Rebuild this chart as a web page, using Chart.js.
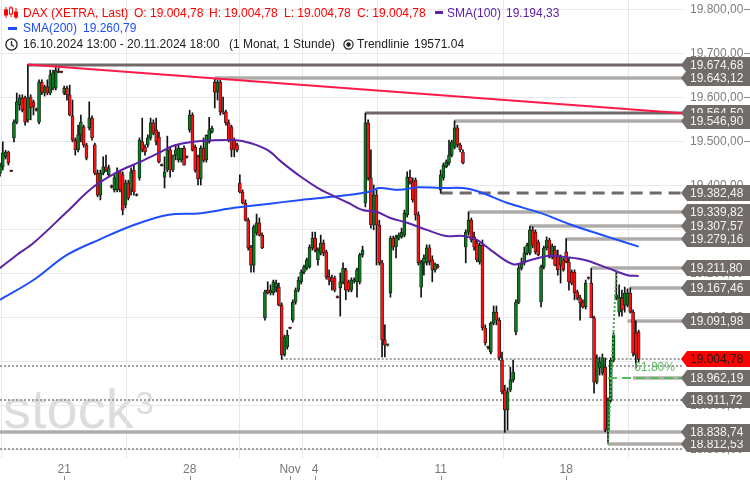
<!DOCTYPE html>
<html><head><meta charset="utf-8">
<script src="https://cdn.jsdelivr.net/npm/chart.js@4/dist/chart.umd.min.js"></script>
<style>
html,body{margin:0;padding:0;background:#fff;}
#wrap{position:relative;width:750px;height:480px;overflow:hidden;font-family:"Liberation Sans",Arial,sans-serif;}
#wm{position:absolute;left:3px;top:381px;color:#dcdcdc;font-size:56px;line-height:56px;z-index:0;white-space:nowrap;}
#wm sup{font-size:32px;position:relative;top:-6px;vertical-align:top;margin-left:2px;}
canvas{position:absolute;left:0;top:0;z-index:1;}
.t{position:absolute;font-size:12px;line-height:14px;white-space:nowrap;z-index:2;}
.r{color:#ff0000;} .p{color:#5c22a8;} .b{color:#1e4dff;} .k{color:#222;}
svg{position:absolute;z-index:2;}
</style></head>
<body>
<div id="wrap">
  <div id="wm">stock<sup>3</sup></div>
  <canvas id="c" width="750" height="480"></canvas>
  <svg style="left:4px;top:6px" width="14" height="13" viewBox="0 0 14 13">
    <g stroke="#ff0000" fill="#ff0000" stroke-width="1">
      <line x1="2" y1="1" x2="2" y2="12"/><rect x="0.5" y="4" width="3" height="5"/>
      <line x1="7" y1="0" x2="7" y2="11"/><rect x="5.5" y="2" width="3" height="6" fill="#fff"/>
      <line x1="12" y1="2" x2="12" y2="13"/><rect x="10.5" y="6" width="3" height="5"/>
    </g>
  </svg>
  <span class="t r" style="left:23px;top:6px">DAX (XETRA, Last)</span>
  <span class="t r" style="left:134px;top:6px">O: 19.004,78</span>
  <span class="t r" style="left:209px;top:6px">H: 19.004,78</span>
  <span class="t r" style="left:284px;top:6px">L: 19.004,78</span>
  <span class="t r" style="left:357px;top:6px">C: 19.004,78</span>
  <span style="position:absolute;left:435px;top:11px;width:8px;height:3px;background:#5c22a8;z-index:2"></span>
  <span class="t p" style="left:447px;top:6px">SMA(100)</span>
  <span class="t p" style="left:506px;top:6px">19.194,33</span>
  <span style="position:absolute;left:8px;top:27px;width:9px;height:3px;background:#1e4dff;z-index:2"></span>
  <span class="t b" style="left:23px;top:21px">SMA(200)</span>
  <span class="t b" style="left:83px;top:21px">19.260,79</span>
  <svg style="left:5px;top:38px" width="13" height="13" viewBox="0 0 13 13">
    <circle cx="6.5" cy="6.5" r="5.6" fill="none" stroke="#222" stroke-width="1.3"/>
    <polyline points="6.5,3 6.5,6.8 9,8.5" fill="none" stroke="#222" stroke-width="1.3"/>
  </svg>
  <span class="t k" style="left:23px;top:37px">16.10.2024 13:00 - 20.11.2024 18:00</span>
  <span class="t k" style="left:229px;top:37px">(1 Monat, 1 Stunde)</span>
  <svg style="left:343px;top:39px" width="11" height="11" viewBox="0 0 11 11">
    <circle cx="5.5" cy="5.5" r="4.6" fill="none" stroke="#222" stroke-width="1.2"/>
    <circle cx="5.5" cy="5.5" r="2.2" fill="#222"/>
  </svg>
  <span class="t k" style="left:357px;top:37px">Trendlinie</span>
  <span class="t k" style="left:414px;top:37px">19571.04</span>
</div>
<script>
// ---------- DATA (hourly candles, index 0 = 16.10.2024 13:00) ----------
const open = [
 19428,19442,19465,19476,19433,
 19508,19544,19583,19599,19599,19549,19601,19590,19574,
 19544,19635,19610,19624,19610,19621,19621,19658,19658,
 19610,19621,19606,19558,19503,19481,19515,19533,19492,
 19531,19553,19492,19428,19378,19428,19442,19424,19399,
 19390,19390,19431,19424,19356,19406,19390,19435,19378,
 19417,19499,19487,19492,19508,19542,19526,19510,19446,
 19419,19435,19481,19435,19469,19458,19458,19485,19465,
 19526,19560,19487,19465,19415,19485,19458,19499,19521,
 19635,19612,19635,19567,19567,19542,19533,19503,19492,
 19406,19385,19360,19321,19260,19219,19292,19315,19287,
 19099,19162,19156,19156,19169,19169,19128,19015,19033,
 19076,19094,19135,19162,19181,19203,19212,19215,19258,
 19280,19231,19246,19269,19249,19192,19190,19190,19146,
 19167,19181,19208,19181,19162,19183,19181,19181,19242,
 19360,19542,19417,19310,19378,19310,19224,19049,19037,
 19156,19280,19260,19280,19283,19287,19333,19419,19408,
 19412,19333,19169,19224,19224,19258,19231,19208,19217,
 19390,19417,19442,19451,19469,19487,19531,19492,19476,
 19260,19294,19321,19283,19269,19226,19264,19076,19033,
 19021,19087,19112,19094,19003,18935,18890,18935,18958,
 19067,19135,19212,19224,19246,19246,19299,19294,19271,
 19135,19215,19258,19276,19237,19253,19242,19219,19231,
 19249,19226,19203,19203,19158,19144,19135,19124,19190,
 19178,19099,18953,18985,18974,18987,18844,18912,19003,
 19144,19112,19144,19128,19128,19155,19112,19065,19067];
const high = [
 19451,19499,19480,19478,19435,
 19549,19610,19606,19606,19603,19674.68,19606,19594,19576,
 19640,19640,19628,19640,19662,19662,19669,19667,19660,
 19626,19626,19628,19594,19508,19537,19560,19537,19496,
 19590,19558,19496,19435,19435,19465,19469,19446,19401,
 19424,19440,19435,19431,19412,19412,19440,19446,19381,
 19508,19553,19492,19515,19553,19549,19553,19521,19449,
 19465,19512,19485,19469,19490,19492,19481,19490,19467,
 19571,19565,19492,19469,19490,19508,19515,19555,19535,
 19643.12,19640,19640,19601,19571,19549,19537,19508,19496,
 19424,19390,19367,19326,19264,19310,19335,19326,19292,
 19162,19181,19174,19185,19185,19178,19133,19060,19071,
 19078,19140,19167,19192,19208,19219,19235,19265,19294,
 19294,19258,19287,19276,19253,19208,19196,19194,19149,
 19201,19224,19212,19185,19190,19190,19212,19246,19262,
 19564.50,19549,19481,19401,19390,19321,19230,19083,19040,
 19285,19285,19287,19292,19303,19344,19431,19435,19417,
 19417,19340,19230,19242,19265,19265,19240,19224,19221,
 19435,19451,19458,19503,19503,19546.90,19537,19496,19481,
 19299,19339.82,19326,19294,19276,19269,19276,19083,19035,
 19090,19126,19126,19099,19021,18946,18940,18987,19003,
 19140,19219,19235,19260,19269,19307.57,19306,19299,19276,
 19219,19262,19283,19280,19267,19262,19253,19242,19235,
 19279.16,19235,19208,19208,19162,19151,19140,19185,19192,
 19211.80,19103,19015,19010,19017,19008,18917,19008,19065,
 19204.30,19174,19162,19169,19165,19167.46,19117,19092,19071];
const low = [
 19421,19435,19460,19446,19431,
 19499,19540,19571,19567,19537,19544,19549,19560,19569,
 19540,19606,19603,19606,19606,19617,19617,19656,19656,
 19606,19594,19558,19499,19469,19476,19499,19487,19458,
 19526,19503,19424,19374,19367,19424,19431,19421,19394,
 19385,19385,19385,19333,19349,19367,19378,19378,19376,
 19412,19476,19469,19487,19503,19515,19492,19451,19444,
 19394,19431,19419,19431,19458,19453,19453,19446,19462,
 19521,19478,19430,19401,19401,19453,19453,19496,19519,
 19576,19594,19560,19562,19537,19499,19465,19465,19476,
 19383,19358,19319,19253,19203,19203,19287,19285,19256,
 19094,19153,19151,19151,19158,19126,19004.78,19012,19028,
 19074,19089,19130,19158,19176,19199,19208,19212,19253,
 19249,19219,19242,19240,19187,19174,19162,19158,19144,
 19103,19176,19140,19158,19158,19178,19146,19176,19237,
 19351,19412,19303,19299,19219,19219,19010,19010,19035,
 19146,19253,19235,19276,19280,19283,19328,19403,19362,
 19321,19219,19146,19196,19219,19219,19181,19203,19212,
 19382.48,19412,19440,19446,19465,19483,19487,19476,19449,
 19224,19287,19271,19253,19226,19221,19071,19037,19028,
 19017,19083,19083,19003,18926,18838.74,18844,18931,18953,
 19060,19131,19208,19219,19242,19242,19258,19244,19240,
 19124,19210,19253,19235,19233,19217,19196,19178,19205,
 19224,19162,19174,19140,19140,19094,19121,19119,19187,
 19174,18928,18949,18969,18969,18840,18812.53,18908,18999,
 19140,19103,19103,19112,19124,19110,19012,18985,18999];
const close = [
 19446,19474,19476,19451,19432,
 19544,19590,19599,19571,19544,19599,19576,19578,19571,
 19635,19612,19624,19610,19651,19656,19662,19657,19657,
 19621,19606,19560,19503,19481,19515,19544,19492,19462,
 19553,19508,19428,19378,19428,19442,19435,19440,19396,
 19417,19431,19390,19344,19406,19371,19431,19385,19377,
 19503,19481,19476,19508,19542,19519,19499,19453,19445,
 19431,19481,19435,19469,19481,19485,19485,19446,19464,
 19560,19480,19434,19415,19485,19457,19514,19526,19530,
 19612,19635,19567,19565,19542,19503,19481,19485,19480,
 19385,19360,19321,19258,19219,19306,19315,19287,19258,
 19158,19156,19162,19181,19178,19128,19015,19056,19060,
 19075,19135,19162,19185,19203,19215,19231,19260,19280,
 19253,19253,19269,19246,19192,19185,19181,19162,19145,
 19181,19212,19162,19162,19185,19184,19208,19242,19253,
 19542,19417,19310,19378,19310,19224,19049,19037,19038,
 19280,19260,19283,19287,19294,19337,19419,19408,19367,
 19333,19224,19224,19235,19258,19226,19208,19221,19214,
 19424,19446,19453,19469,19499,19531,19492,19481,19451,
 19294,19321,19276,19260,19231,19264,19076,19042,19032,
 19087,19112,19094,19008,18931,18890,18931,18958,18976,
 19135,19212,19224,19246,19264,19299,19264,19249,19242,
 19215,19258,19276,19237,19262,19219,19208,19237,19208,
 19226,19181,19178,19156,19144,19133,19124,19178,19189,
 19099,18953,19008,18999,19008,18844,18912,19003,19060,
 19151,19146,19117,19155,19156,19112,19019,19015,19004.78];

// moving averages read at candle indices
const sma100 = [[0,19212],[6,19242],[12,19269],[24,19340],[33,19394],[42,19430],[50,19453],[57,19474],[63,19492],[72,19501],[84,19503],[90,19496],[96,19480],[101,19453],[108,19419],[114,19394],[119,19378],[125,19360],[130,19344],[135,19340],[140,19326],[146,19315],[153,19299],[160,19285],[166,19285],[171,19276],[176,19253],[184,19221],[190,19230],[197,19240],[203,19237],[210,19230],[218,19212],[225,19196],[229,19194.33]];
const sma200 = [[0,19140],[12,19185],[24,19242],[36,19278],[48,19310],[60,19333],[72,19337],[84,19349],[96,19358],[108,19367],[119,19374],[132,19385],[136,19394],[143,19390],[150,19396],[158,19394],[166,19394],[172,19385],[182,19360],[194,19337],[205,19310],[218,19283],[229,19260.79]];

const trendAnchors = [[10,19674.68],[77,19643.12]];
const fibLow = [218,18812.53];
const fibHigh = [221,19204.30];
const fibLevel = 18962.19;
const fibText = '61.80%';

const levelValues = [19674.68,19643.12,19564.50,19546.90,19382.48,19339.82,19307.57,19279.16,19211.80,19167.46,19091.98,18962.19,18911.72,18812.53,18838.74,19004.78];
const levelFrom   = [10,77,131,163,158,168,190,203,212,226,225,227,0,218,0,101];
const extraDotted = [18988.6,18801.6];

const tickIndex  = [23,68,104,113,158,203];
const tickLabels = ['21','28','Nov','4','11','18'];

// ---------- helpers ----------
const FONT = '"Liberation Sans", Arial, sans-serif';
Chart.defaults.font.family = FONT;
function fmt(v){
  const s = Number(v).toFixed(2).split('.');
  return s[0].replace(/\B(?=(\d{3})+(?!\d))/g,'.') + ',' + s[1];
}
const lastClose = close[close.length-1];
const levelStyle = {19674.68:'thick',19564.5:'thick',19382.48:'dashed',19004.78:'dotted',18911.72:'dotted'};

const X_MAX = 244.9;
const idx = open.map((_,i)=>i);
const trendSlope = (trendAnchors[1][1]-trendAnchors[0][1])/(trendAnchors[1][0]-trendAnchors[0][0]);
const trendData = [
  {x:trendAnchors[0][0], y:trendAnchors[0][1]},
  {x:X_MAX, y:trendAnchors[0][1] + trendSlope*(X_MAX-trendAnchors[0][0])}
];

function hline(ctx, x0, x1, py, kind){
  ctx.save();
  if(kind==='thick'){ctx.strokeStyle='#6e6966';ctx.lineWidth=3;}
  else if(kind==='dashed'){ctx.strokeStyle='#6e6966';ctx.lineWidth=3;ctx.setLineDash([12,7]);}
  else if(kind==='dotted'){ctx.strokeStyle='#a0a0a0';ctx.lineWidth=2;ctx.setLineDash([2,2]);}
  else {ctx.strokeStyle='#8a8583';ctx.lineWidth=3;}
  ctx.beginPath();ctx.moveTo(x0,py);ctx.lineTo(x1,py);ctx.stroke();
  if(kind==='double'){
    ctx.strokeStyle='#d4d1cf';ctx.lineWidth=1;
    ctx.beginPath();ctx.moveTo(x0,py);ctx.lineTo(x1,py);ctx.stroke();
  }
  ctx.restore();
}

const levelPlugin = {
  id:'levels',
  beforeDatasetsDraw(chart){
    const {ctx, chartArea:a, scales:{x,y}} = chart;
    ctx.save();
    ctx.beginPath();ctx.rect(a.left,a.top,a.right-a.left,a.bottom-a.top);ctx.clip();
    extraDotted.forEach(v=>hline(ctx, x.getPixelForValue(0), a.right, Math.round(y.getPixelForValue(v)), 'dotted'));
    levelValues.forEach((v,k)=>{
      const kind = levelStyle[v] || 'double';
      hline(ctx, x.getPixelForValue(levelFrom[k]), a.right, Math.round(y.getPixelForValue(v)), kind);
    });
    ctx.restore();
  },
  afterDatasetsDraw(chart){
    const {ctx, chartArea:a, scales:{x,y}} = chart;
    ctx.save();
    ctx.strokeStyle='#5cb85c';ctx.lineWidth=2;ctx.setLineDash([9,5]);
    const py = Math.round(y.getPixelForValue(fibLevel));
    ctx.beginPath();ctx.moveTo(x.getPixelForValue(fibLow[0]),py);ctx.lineTo(a.right,py);ctx.stroke();
    ctx.setLineDash([]);
    ctx.fillStyle='#5cb85c';ctx.font='12px '+FONT;ctx.textBaseline='middle';ctx.textAlign='left';
    ctx.fillText(fibText, x.getPixelForValue(227.4), y.getPixelForValue(18985));
    ctx.restore();
  },
  afterDraw(chart){
    const {ctx, chartArea:a, scales:{x,y}} = chart;
    ctx.save();
    ctx.strokeStyle='#8a8a8a';ctx.lineWidth=1;
    y.ticks.forEach(t=>{const py=Math.round(y.getPixelForValue(t.value))+0.5;ctx.beginPath();ctx.moveTo(744,py);ctx.lineTo(750,py);ctx.stroke();});
    x.ticks.forEach(t=>{const px=Math.round(x.getPixelForValue(t.value))+0.5;ctx.beginPath();ctx.moveTo(px,476);ctx.lineTo(px,480);ctx.stroke();});
    ctx.font='12px '+FONT;ctx.textBaseline='middle';ctx.textAlign='left';
    levelValues.forEach(v=>{
      const py = Math.round(y.getPixelForValue(v));
      const cur = v===lastClose;
      const l = a.right-2;
      ctx.beginPath();
      ctx.moveTo(l,py);ctx.lineTo(l+6,py-8);ctx.lineTo(750,py-8);ctx.lineTo(750,py+8);ctx.lineTo(l+6,py+8);ctx.closePath();
      ctx.fillStyle = cur ? '#ff0000' : '#716c69';
      ctx.fill();
      ctx.fillStyle = cur ? '#1a1a1a' : '#f3f3f3';
      ctx.fillText(fmt(v), 690, py+0.5);
    });
    ctx.restore();
  }
};

function noPad(s){ s.paddingTop = 0; s.paddingBottom = 0; s.paddingLeft = 0; s.paddingRight = 0; }

new Chart(document.getElementById('c'), {
  type:'bar',
  data:{
    datasets:[
      {type:'bar', data: idx.map(i=>({x:i, y:[low[i], high[i]]})), backgroundColor:'#111', barThickness:1, grouped:false, order:5},
      {type:'bar', data: idx.map(i=>({x:i, y:[open[i], close[i]]})),
        backgroundColor: idx.map(i=> close[i]>=open[i] ? '#0b7a1f' : '#ff1010'),
        borderColor:'#111', borderWidth:0.7, borderSkipped:false, barThickness:3, minBarLength:1, grouped:false, order:4},
      {type:'line', data: sma100.map(p=>({x:p[0],y:p[1]})), borderColor:'#5c22a8', borderWidth:2, pointRadius:0, tension:0.35, order:2},
      {type:'line', data: sma200.map(p=>({x:p[0],y:p[1]})), borderColor:'#1e4dff', borderWidth:2, pointRadius:0, tension:0.35, order:2},
      {type:'line', data: trendData, borderColor:'#ff1a47', borderWidth:2, pointRadius:0, order:1},
      {type:'line', data: [{x:fibLow[0],y:fibLow[1]},{x:fibHigh[0],y:fibHigh[1]}], borderColor:'#4cae4c', borderWidth:2, borderDash:[2,2], pointRadius:0, order:0}
    ]
  },
  options:{
    responsive:false, animation:false, events:[],
    layout:{padding:0},
    plugins:{legend:{display:false}, tooltip:{enabled:false}},
    scales:{
      x:{type:'linear', min:0, max:X_MAX, offset:false,
        grid:{color:'#e8e8e8', drawTicks:false}, border:{display:false},
        afterBuildTicks:s=>{ s.ticks = tickIndex.map(v=>({value:v})); },
        ticks:{autoSkip:false, maxRotation:0, padding:4, color:'#777', font:{size:12},
          callback:(v,i)=>tickLabels[i]},
        afterFit:s=>{ s.height = 22; noPad(s); }
      },
      y:{type:'linear', position:'right', min:18780.5, max:19821.4,
        grid:{color:'#e8e8e8', drawTicks:false}, border:{display:false},
        ticks:{stepSize:100, includeBounds:false, padding:7, color:'#7d7d7d', font:{size:12},
          callback:v=>fmt(v)},
        afterFit:s=>{ s.width = 67; noPad(s); }
      }
    }
  },
  plugins:[levelPlugin]
});
</script>
</body></html>
